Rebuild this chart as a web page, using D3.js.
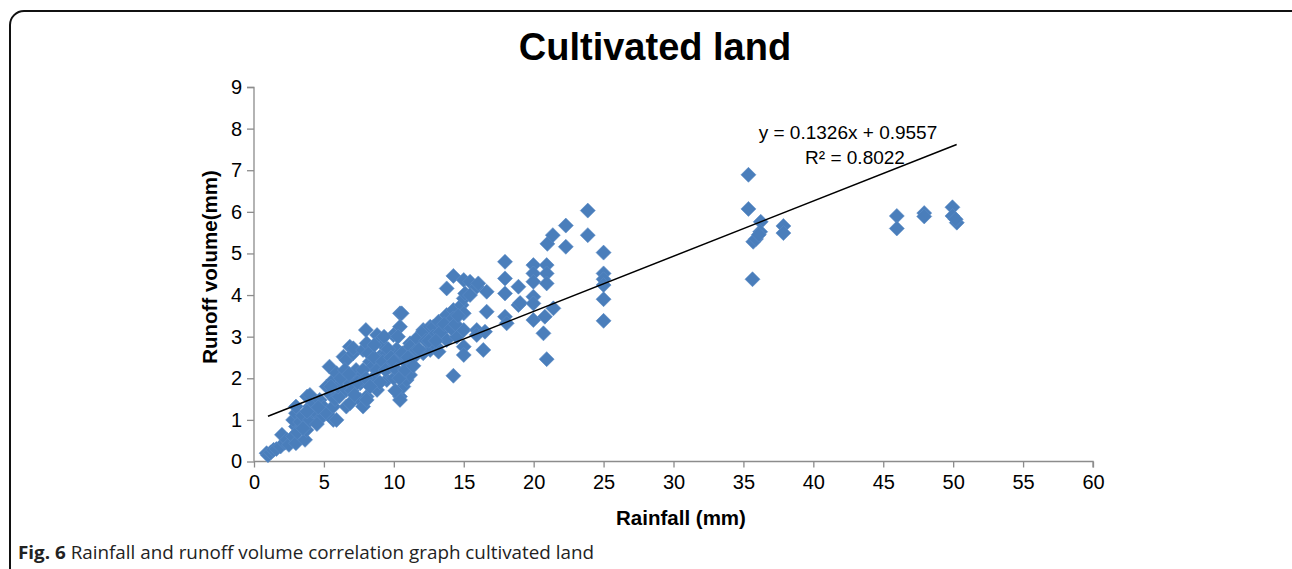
<!DOCTYPE html>
<html><head><meta charset="utf-8">
<script src="https://cdn.jsdelivr.net/npm/d3@7"></script>
<style>
html,body{margin:0;padding:0;background:#fff;}
svg{display:block;}
</style></head>
<body>
<svg id="c" width="1292" height="569"></svg>
<script>
const title = "Cultivated land";
const xLabel = "Rainfall (mm)";
const yLabel = "Runoff volume(mm)";
const xTicks = [0,5,10,15,20,25,30,35,40,45,50,55,60];
const yTicks = [0,1,2,3,4,5,6,7,8,9];
const trendSlope = 0.1326;
const trendIntercept = 0.9557;
const trendRange = [1.0, 50.25];
const eqText = "y = 0.1326x + 0.9557";
const r2Text = "R² = 0.8022";
const captionBold = "Fig. 6";
const captionText = " Rainfall and runoff volume correlation graph cultivated land";

const rainfall = [
0.9,1.0,1.2,1.4,1.6,1.9,2.0,2.2,2.35,2.5,2.8,3.0,3.0,2.8,3.0,3.0,3.1,3.3,3.5,3.65,3.75,3.8,4.0,4.0,4.0,4.2,4.5,4.3,4.7,4.8,5.0,5.2,5.2,5.4,5.5,5.67,5.67,5.67,5.9,5.9,5.8,6.1,6.0,6.4,6.6,6.6,6.6,6.85,6.87,6.87,7.1,7.1,7.1,7.3,7.6,7.6,7.6,7.8,7.8,8.0,8.06,8.06,8.06,8.3,8.5,8.5,8.8,8.8,9.0,9.0,9.25,9.5,9.5,9.7,9.97,10.0,10.2,10.44,10.56,10.44,10.44,10.44,10.44,10.68,10.92,10.92,11.16,11.16,11.16,11.16,11.4,11.64,11.64,12.1,12.1,12.1,12.6,12.6,12.83,13.07,13.2,13.2,13.54,13.78,13.78,13.78,14.0,14.26,14.26,14.26,14.26,14.5,14.85,15.0,15.0,15.0,15.0,15.0,15.0,15.1,15.45,15.45,15.93,15.93,15.93,16.04,16.4,16.52,16.64,16.64,17.95,17.95,17.95,17.95,18.07,18.91,18.91,19.03,19.98,19.98,19.98,19.98,19.98,19.98,20.8,20.7,20.93,20.93,20.93,20.93,20.98,21.37,21.41,22.3,22.3,23.87,23.87,25,25,25,25,25,25,
5.5,6.2,6.5,6.8,7.0,7.4,7.8,8.0,8.2,8.6,8.8,9.2,9.4,9.6,9.8,10.0,10.2,10.4,10.6,10.8,11.0,11.4,11.8,12.3,12.8,13.3,13.6,14.1,14.4,14.6,12.5,13.0,9.3,8.6,10.3,10.1,9.0,8.3,7.2,3.5,4.5,3.8,4.6,
35.36,35.36,36.24,36.2,35.7,35.9,36.1,35.65,37.86,37.86,45.97,45.97,47.93,47.93,49.95,49.95,50.26,50.18
];
const runoff = [
0.2,0.15,0.22,0.28,0.3,0.36,0.64,0.45,0.52,0.4,0.6,0.44,0.84,1.0,1.16,1.32,0.7,0.95,1.1,0.52,0.76,1.56,1.32,1.0,1.6,1.2,1.16,1.4,1.48,1.05,1.3,1.16,1.8,2.28,1.6,1.96,1.32,1.0,1.0,2.12,1.5,1.56,1.8,2.52,2.44,1.72,1.32,2.76,1.4,1.88,2.6,2.04,2.72,2.2,1.48,1.88,2.04,2.68,1.32,3.16,2.84,1.56,1.48,2.4,2.28,2.0,3.04,1.72,2.52,2.9,2.8,1.96,2.6,2.28,3.04,2.0,2.7,3.56,3.56,3.24,2.52,1.56,1.48,1.8,1.96,2.36,2.84,2.76,2.28,2.08,2.5,2.68,2.96,3.16,3.12,2.6,3.24,2.68,3.24,2.76,3.36,2.64,3.16,3.52,2.92,4.16,3.3,3.64,3.44,4.46,2.06,3.0,3.76,3.56,3.16,2.76,2.56,3.92,4.36,4.04,4.32,4.0,4.2,3.16,3.04,4.28,2.68,3.12,4.08,3.6,4.8,4.4,4.04,3.48,3.32,4.2,3.76,3.81,4.72,4.52,4.32,3.96,3.8,3.4,3.48,3.08,4.72,4.52,4.28,2.46,5.23,5.44,3.68,5.67,5.16,6.03,5.44,5.02,4.52,4.38,4.24,3.9,3.38,
1.8,2.0,2.2,2.1,1.7,1.9,2.2,2.0,2.6,2.5,2.2,2.4,2.2,2.7,2.5,2.4,2.2,2.0,2.6,2.2,2.5,2.3,2.7,2.9,3.0,3.1,3.3,3.2,3.3,3.5,2.9,2.9,3.0,2.8,3.0,1.7,1.9,1.8,1.6,0.8,0.9,1.2,1.3,
6.89,6.07,5.76,5.52,5.28,5.35,5.45,4.38,5.66,5.49,5.90,5.60,5.97,5.89,6.11,5.90,5.74,5.82
];

const svg = d3.select("#c");

// frame
svg.append("rect").attr("x",10).attr("y",11).attr("width",1300).attr("height",600)
  .attr("rx",14).attr("fill","none").attr("stroke","#111").attr("stroke-width",2);

const x = d3.scaleLinear().domain([0,60]).range([254,1093]);
const y = d3.scaleLinear().domain([0,9]).range([461.5,87]);

const axisColor = "#8c8c8c";
const font = "'Liberation Sans', Arial, sans-serif";

// y axis
const gy = svg.append("g").attr("transform","translate(254,0)")
  .call(d3.axisLeft(y).tickValues(yTicks).tickSize(7).tickPadding(5).tickFormat(d3.format("d")));
gy.select(".domain").attr("stroke",axisColor).attr("stroke-width",1.3).attr("d","M-7,87.5H0V461.5");
gy.selectAll(".tick line").attr("stroke",axisColor).attr("stroke-width",1.3);
gy.selectAll(".tick text").attr("font-family",font).attr("font-size",20).attr("fill","#000");

// x axis
const gx = svg.append("g").attr("transform","translate(0,461.5)")
  .call(d3.axisBottom(x).tickValues(xTicks).tickSize(6).tickPadding(7).tickFormat(d3.format("d")));
gx.select(".domain").attr("stroke",axisColor).attr("stroke-width",1.3).attr("d","M254,0H1093V6");
gx.selectAll(".tick line").attr("stroke",axisColor).attr("stroke-width",1.3);
gx.selectAll(".tick text").attr("font-family",font).attr("font-size",20).attr("fill","#000");

// points
const pts = rainfall.map((r,i)=>[r, runoff[i]]);
const s = 7.5;
svg.append("g").selectAll("path").data(pts).join("path")
  .attr("d", d => `M${x(d[0])},${y(d[1])-s}L${x(d[0])+s},${y(d[1])}L${x(d[0])},${y(d[1])+s}L${x(d[0])-s},${y(d[1])}Z`)
  .attr("fill","#4a7ebb").attr("stroke","#5b8cc6").attr("stroke-width",0.6);

// trendline
svg.append("line")
  .attr("x1", x(trendRange[0])).attr("y1", y(trendSlope*trendRange[0]+trendIntercept))
  .attr("x2", x(trendRange[1])).attr("y2", y(trendSlope*trendRange[1]+trendIntercept))
  .attr("stroke","#000").attr("stroke-width",1.5);

svg.append("text").attr("x",848).attr("y",139).attr("text-anchor","middle")
  .attr("font-family",font).attr("font-size",19).text(eqText);
svg.append("text").attr("x",855).attr("y",164).attr("text-anchor","middle")
  .attr("font-family",font).attr("font-size",19).text(r2Text);

// title
svg.append("text").attr("x",655).attr("y",60).attr("text-anchor","middle")
  .attr("font-family",font).attr("font-weight","bold").attr("font-size",38).text(title);

// axis labels
svg.append("text").attr("x",681).attr("y",525).attr("text-anchor","middle")
  .attr("font-family",font).attr("font-weight","bold").attr("font-size",20.5).text(xLabel);
svg.append("text").attr("transform","translate(217,267) rotate(-90)").attr("text-anchor","middle")
  .attr("font-family",font).attr("font-weight","bold").attr("font-size",20.5).text(yLabel);

// caption
const cap = svg.append("text").attr("x",18).attr("y",559)
  .attr("font-family","'Open Sans', sans-serif").attr("font-size",18.5).attr("fill","#222")
  .attr("textLength",576).attr("lengthAdjust","spacingAndGlyphs");
cap.append("tspan").attr("font-weight","bold").text(captionBold);
cap.append("tspan").text(captionText);
</script>
</body></html>
